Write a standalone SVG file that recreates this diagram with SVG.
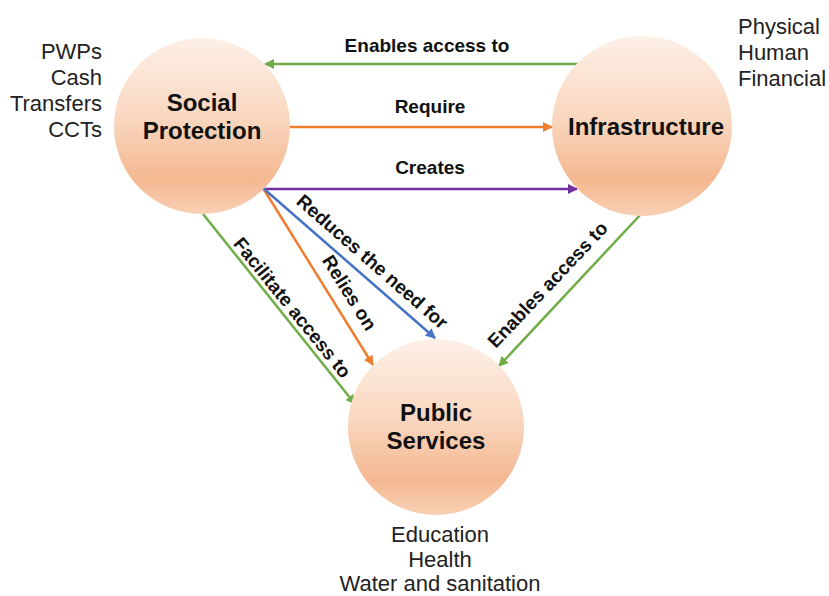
<svg xmlns="http://www.w3.org/2000/svg" width="829" height="596" viewBox="0 0 829 596">
<style>
.node{stroke:none;fill:url(#peach)}
.nl{font-family:"Liberation Sans",Arial,sans-serif;font-weight:bold;font-size:24px;fill:#111;text-anchor:middle}
.el{font-family:"Liberation Sans",Arial,sans-serif;font-weight:bold;font-size:19px;fill:#111;text-anchor:middle}
.side{font-family:"Liberation Sans",Arial,sans-serif;font-size:22px;fill:#222}
.c{fill:none;stroke-width:2.5}
.g{stroke:#70ad47}.o{stroke:#ed7d31}.p{stroke:#7030a0}.b{stroke:#4472c4}
</style>
<defs>
<linearGradient id="peach" x1="0" y1="0" x2="0" y2="1">
<stop offset="0" stop-color="#fdf0e7"/>
<stop offset="0.45" stop-color="#f9d7c0"/>
<stop offset="0.8" stop-color="#f4b890"/>
<stop offset="1" stop-color="#f8d0b5"/>
</linearGradient>
<marker id="ag" viewBox="0 0 10 10" refX="9" refY="5" markerWidth="4" markerHeight="4" orient="auto" markerUnits="strokeWidth"><path d="M0,0L10,5L0,10z" fill="#70ad47"/></marker>
<marker id="ao" viewBox="0 0 10 10" refX="9" refY="5" markerWidth="4" markerHeight="4" orient="auto" markerUnits="strokeWidth"><path d="M0,0L10,5L0,10z" fill="#ed7d31"/></marker>
<marker id="ap" viewBox="0 0 10 10" refX="9" refY="5" markerWidth="4" markerHeight="4" orient="auto" markerUnits="strokeWidth"><path d="M0,0L10,5L0,10z" fill="#7030a0"/></marker>
<marker id="ab" viewBox="0 0 10 10" refX="9" refY="5" markerWidth="4" markerHeight="4" orient="auto" markerUnits="strokeWidth"><path d="M0,0L10,5L0,10z" fill="#4472c4"/></marker>
</defs>
<rect width="829" height="596" fill="#fff"/>
<g id="connectors">
<line class="c g" x1="578" y1="64" x2="265" y2="64" marker-end="url(#ag)"/>
<line class="c o" x1="290" y1="127" x2="552" y2="127" marker-end="url(#ao)"/>
<line class="c p" x1="262" y1="189" x2="577" y2="189" marker-end="url(#ap)"/>
<line class="c g" x1="203" y1="214" x2="355" y2="404" marker-end="url(#ag)"/>
<line class="c o" x1="263" y1="188" x2="373" y2="365" marker-end="url(#ao)"/>
<line class="c b" x1="263" y1="188" x2="435" y2="338" marker-end="url(#ab)"/>
<line class="c g" x1="642" y1="213" x2="499" y2="366" marker-end="url(#ag)"/>
<text class="el" x="427" y="52">Enables access to</text>
<text class="el" x="430" y="113">Require</text>
<text class="el" x="430" y="174">Creates</text>
<text class="el" transform="translate(372,262) rotate(41.1)" y="6">Reduces the need for</text>
<text class="el" transform="translate(349,293) rotate(58)" y="6">Relies on</text>
<text class="el" transform="translate(292,308) rotate(51)" y="6">Facilitate access to</text>
<text class="el" transform="translate(548,285) rotate(-46.7)" y="6">Enables access to</text>
</g>
<g id="social-protection">
<circle class="node" cx="202" cy="126" r="88"/>
<text class="nl" x="202" y="111">Social</text>
<text class="nl" x="202" y="139">Protection</text>
</g>
<g id="infrastructure">
<circle class="node" cx="642" cy="126" r="90"/>
<text class="nl" x="646" y="135">Infrastructure</text>
</g>
<g id="public-services">
<circle class="node" cx="436" cy="427" r="88"/>
<text class="nl" x="436" y="421">Public</text>
<text class="nl" x="436" y="449">Services</text>
</g>
<g id="side-notes">
<text class="side" text-anchor="end" x="102" y="59">PWPs</text>
<text class="side" text-anchor="end" x="102" y="85">Cash</text>
<text class="side" text-anchor="end" x="102" y="111">Transfers</text>
<text class="side" text-anchor="end" x="102" y="137">CCTs</text>
<text class="side" x="738" y="34">Physical</text>
<text class="side" x="738" y="60">Human</text>
<text class="side" x="738" y="86">Financial</text>
<text class="side" text-anchor="middle" x="440" y="542">Education</text>
<text class="side" text-anchor="middle" x="440" y="567">Health</text>
<text class="side" text-anchor="middle" x="440" y="591">Water and sanitation</text>
</g>
</svg>
